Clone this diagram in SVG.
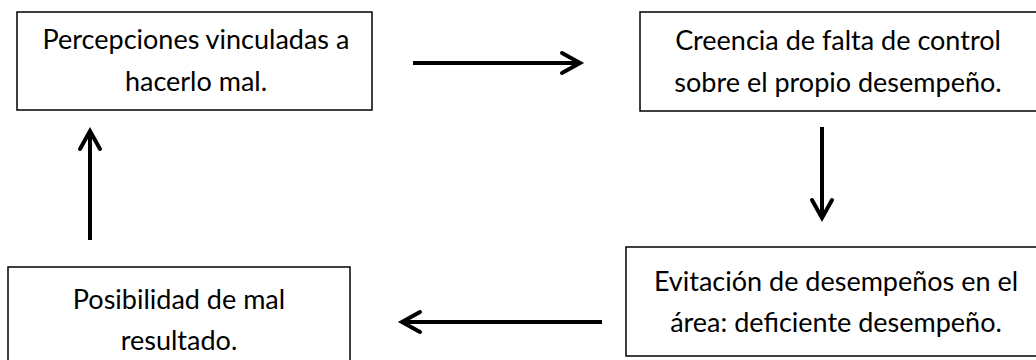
<svg xmlns="http://www.w3.org/2000/svg" width="1036" height="360" viewBox="0 0 1036 360">
<style>
.box{fill:#fff;stroke:#000;stroke-width:1.5}
.t{font-family:Lato,"Liberation Sans",sans-serif;font-size:27px;fill:#000;text-anchor:middle}
.c{fill:none;stroke:#000;stroke-width:4;stroke-linecap:butt}
.h{fill:none;stroke:#000;stroke-width:4;stroke-linecap:round;stroke-linejoin:miter}
</style>
<rect width="1036" height="360" fill="#fff"/>
<g id="n1">
<rect class="box" x="17" y="12" width="355" height="98"/>
<text class="t" x="196" y="49">Percepciones vinculadas a</text>
<text class="t" x="196" y="91">hacerlo mal.</text>
</g>
<g id="n2">
<rect class="box" x="640" y="12" width="400" height="99"/>
<text class="t" x="838" y="50">Creencia de falta de control</text>
<text class="t" x="838" y="92">sobre el propio desempeño.</text>
</g>
<g id="n3">
<rect class="box" x="8" y="267" width="342" height="95"/>
<text class="t" x="179" y="309">Posibilidad de mal</text>
<text class="t" x="179" y="350">resultado.</text>
</g>
<g id="n4">
<rect class="box" x="626" y="247" width="414" height="109"/>
<text class="t" x="836" y="291">Evitación de desempeños en el</text>
<text class="t" x="836" y="332">área: deficiente desempeño.</text>
</g>
<g id="connectors">
<line class="c" x1="413" y1="63" x2="580" y2="63"/>
<polyline class="h" points="562,53 580,63 562,73"/>
<line class="c" x1="602" y1="322" x2="402" y2="322"/>
<polyline class="h" points="420,312 402,322 420,332"/>
<line class="c" x1="90" y1="240" x2="90" y2="131"/>
<polyline class="h" points="80,149 90,131 100,149"/>
<line class="c" x1="822" y1="127" x2="822" y2="218"/>
<polyline class="h" points="812,200 822,218 832,200"/>
</g>
</svg>
